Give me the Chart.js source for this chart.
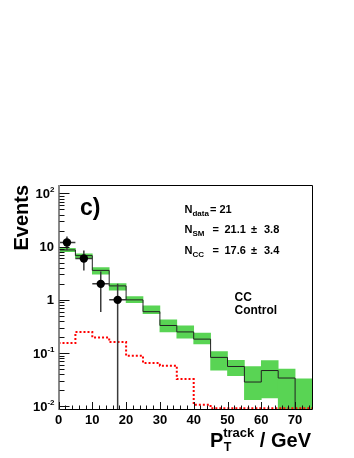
<!DOCTYPE html>
<html>
<head>
<meta charset="utf-8">
<script src="https://cdn.jsdelivr.net/npm/chart.js@4/dist/chart.umd.min.js"></script>
<style>
html,body{margin:0;padding:0;background:#fff;}
#wrap{width:354px;height:458px;}
</style>
</head>
<body>
<div id="wrap"><canvas id="mychart"></canvas></div>
<script>
'use strict';
// bin edges of the histograms (GeV)
const binEdges=[0,5,10,15,20,25,30,35,40,45,50,55,60,65,70,75];
// SM expectation per bin with its uncertainty band
const smValues=[8.67,6.78,3.58,1.83,1.0,0.60,0.33,0.25,0.183,0.083,0.056,0.0286,0.047,0.034,0.004];
const smLow=[8.05,6.05,3.03,1.52,0.89,0.55,0.25,0.19,0.148,0.048,0.0375,0.0133,0.0143,0.004,0.004];
const smHigh=[9.3,7.3,4.03,2.02,1.15,0.77,0.42,0.325,0.237,0.107,0.073,0.056,0.072,0.05,0.033];
// red dotted component
const ccValues=[0.154,0.248,0.196,0.161,0.089,0.065,0.058,0.0325,0.0107,0.0092,0.0092,0.0092,0.0092,0.0092,0.0092];
// data points
const dataX=[2.5,7.5,12.5,17.5];
const dataY=[12,6,2,1];
const dataErr=[3.46,2.45,1.41,1];
// y tick decades
const yTicks=[0.01,0.1,1,10,100];

const FONT="'Liberation Sans', Arial, Helvetica, sans-serif";

function stepPoints(vals){
  return binEdges.map((e,i)=>({x:e,y:vals[Math.min(i,vals.length-1)]}));
}
const bandData=smLow.map((lo,i)=>({x:binEdges[i]+2.5,y:[lo,smHigh[i]]}));

function supText(ctx,base,exp,xRight,y){
  ctx.font='bold 13px '+FONT;
  const wb=ctx.measureText(base).width;
  ctx.font='bold 8px '+FONT;
  const we=exp?ctx.measureText(exp).width:0;
  const x0=xRight-wb-we;
  ctx.font='bold 13px '+FONT;
  ctx.textBaseline='middle';
  ctx.textAlign='left';
  ctx.fillText(base,x0,y+1);
  if(exp){
    ctx.font='bold 8px '+FONT;
    ctx.textBaseline='alphabetic';
    ctx.fillText(exp,x0+wb,y-1);
  }
}

function nLabel(ctx,sub,x,base){
  ctx.textAlign='left';
  ctx.textBaseline='alphabetic';
  ctx.font='bold 11px '+FONT;
  ctx.fillText('N',x,base);
  const w=ctx.measureText('N').width;
  ctx.font='bold 8px '+FONT;
  ctx.fillText(sub,x+w,base+2.8);
}

const rootStyle={
  id:'rootStyle',
  beforeDatasetDraw(chart,args){
    if(args.index!==3)return;
    const ctx=chart.ctx, xs=chart.scales.x, ys=chart.scales.y, a=chart.chartArea;
    ctx.save();
    ctx.beginPath();
    ctx.rect(a.left,a.top,a.right-a.left,a.bottom-a.top);
    ctx.clip();
    ctx.strokeStyle='#3a3a3a';
    ctx.lineWidth=1.5;
    dataX.forEach((x,i)=>{
      const px=xs.getPixelForValue(x), py=ys.getPixelForValue(dataY[i]);
      const lo=dataY[i]-dataErr[i];
      const pLo=lo>0?ys.getPixelForValue(lo):a.bottom+5;
      const pHi=ys.getPixelForValue(dataY[i]+dataErr[i]);
      ctx.beginPath();
      ctx.moveTo(px,pHi);ctx.lineTo(px,pLo);
      ctx.moveTo(xs.getPixelForValue(x-2.5),py);ctx.lineTo(xs.getPixelForValue(x+2.5),py);
      ctx.stroke();
    });
    ctx.restore();
  },
  afterDraw(chart){
    const ctx=chart.ctx, xs=chart.scales.x, ys=chart.scales.y, a=chart.chartArea;
    ctx.save();
    // frame
    ctx.strokeStyle='#000';
    ctx.lineWidth=1;
    ctx.beginPath();
    ctx.moveTo(a.left,a.top+0.5);ctx.lineTo(a.right+0.5,a.top+0.5);
    ctx.lineTo(a.right+0.5,a.bottom+0.5);ctx.lineTo(a.left,a.bottom+0.5);
    ctx.stroke();
    ctx.strokeStyle='#888';
    ctx.lineWidth=2;
    ctx.beginPath();
    ctx.moveTo(a.left+0.5,a.top);ctx.lineTo(a.left+0.5,a.bottom+1);
    ctx.stroke();
    // y ticks
    ctx.strokeStyle='#111';
    ctx.lineWidth=1;
    ctx.beginPath();
    for(let d=-3;d<=2;d++){
      for(let m=1;m<=9;m++){
        const v=m*Math.pow(10,d);
        if(v<ys.min||v>ys.max)continue;
        const py=Math.round(ys.getPixelForValue(v))+0.5;
        const len=m===1?10:5;
        ctx.moveTo(a.left+1,py);ctx.lineTo(a.left+1+len,py);
      }
    }
    // x ticks
    for(let v=0;v<=xs.max;v+=2){
      const px=Math.round(xs.getPixelForValue(v))+0.5;
      const len=v%10===0?7:3.5;
      ctx.moveTo(px,a.bottom);ctx.lineTo(px,a.bottom-len);
    }
    ctx.stroke();
    // y labels
    ctx.fillStyle='#000';
    yTicks.forEach(v=>{
      const e=Math.round(Math.log10(v));
      const py=ys.getPixelForValue(v);
      if(e===0)supText(ctx,'1','',54,py);
      else if(e===1)supText(ctx,'10','',54,py);
      else supText(ctx,'10',String(e),54.5,py);
    });
    // y title
    ctx.save();
    ctx.translate(22.5,a.top);
    ctx.rotate(-Math.PI/2);
    ctx.font='bold 20px '+FONT;
    ctx.textAlign='right';
    ctx.textBaseline='middle';
    ctx.fillText('Events',0,0);
    ctx.restore();
    // x title
    ctx.textAlign='left';
    ctx.textBaseline='alphabetic';
    ctx.font='bold 20px '+FONT;
    const wP=ctx.measureText('P').width, wR=ctx.measureText(' / GeV').width;
    ctx.font='bold 13px '+FONT;
    const wS=ctx.measureText('track').width;
    let x0=a.right-1-(wP+wS+wR);
    ctx.font='bold 20px '+FONT;
    ctx.fillText('P',x0,447.3);
    ctx.font='bold 13px '+FONT;
    ctx.fillText('track',x0+wP,436.5);
    ctx.font='bold 12.5px '+FONT;
    ctx.fillText('T',x0+wP+0.5,450.7);
    ctx.font='bold 20px '+FONT;
    ctx.fillText(' / GeV',x0+wP+wS,447.3);
    // panel label
    ctx.font='bold 23px '+FONT;
    ctx.fillText('c)',80,215);
    // numbers
    nLabel(ctx,'data',184.5,212.7);
    ctx.font='bold 11px '+FONT;
    ctx.fillText('= 21',210,212.7);
    nLabel(ctx,'SM',184.5,232.7);
    ctx.font='bold 11px '+FONT;
    ctx.fillText('=',212.5,232.7);
    ctx.fillText('21.1',224.5,232.7);
    ctx.fillText('\u00b1',251,232.7);
    ctx.fillText('3.8',264,232.7);
    nLabel(ctx,'CC',184.5,254);
    ctx.font='bold 11px '+FONT;
    ctx.fillText('=',212.5,254);
    ctx.fillText('17.6',224.5,254);
    ctx.fillText('\u00b1',251,254);
    ctx.fillText('3.4',264,254);
    ctx.font='bold 12px '+FONT;
    ctx.fillText('CC',234.5,300.7);
    ctx.fillText('Control',234.5,314.3);
    ctx.restore();
  }
};

let mychart=document.getElementById('mychart').getContext('2d');
let histchart=new Chart(mychart,{
  type:'line',
  data:{
    datasets:[
      {
        type:'bar',
        label:'SM uncertainty',
        data:bandData,
        backgroundColor:'#59d454',
        borderWidth:0,
        barPercentage:1,
        categoryPercentage:1,
        order:4
      },
      {
        label:'SM',
        data:stepPoints(smValues),
        stepped:'before',
        borderColor:'#222',
        borderWidth:1,
        pointRadius:0,
        fill:false,
        order:3
      },
      {
        label:'CC',
        data:stepPoints(ccValues),
        stepped:'before',
        borderColor:'#ff0000',
        borderWidth:2,
        borderDash:[2,2],
        pointRadius:0,
        fill:false,
        order:2
      },
      {
        type:'scatter',
        label:'Data',
        data:dataX.map((x,i)=>({x:x,y:dataY[i]})),
        backgroundColor:'#000',
        borderWidth:0,
        pointRadius:4.2,
        order:1
      }
    ]
  },
  options:{
    responsive:true,
    maintainAspectRatio:false,
    animation:false,
    events:[],
    layout:{padding:{top:185,right:42,left:0,bottom:0}},
    plugins:{legend:{display:false},tooltip:{enabled:false}},
    scales:{
      x:{
        type:'linear',
        min:0,
        max:75,
        offset:false,
        grid:{display:false,drawTicks:false},
        border:{display:false},
        ticks:{
          stepSize:10,
          includeBounds:false,
          autoSkip:false,
          maxRotation:0,
          padding:4,
          color:'#000',
          font:{family:FONT,size:13,weight:'bold'}
        },
        afterFit(scale){scale.height=49;}
      },
      y:{
        type:'logarithmic',
        min:0.0089,
        max:144,
        grid:{display:false,drawTicks:false},
        border:{display:false},
        ticks:{display:false},
        afterFit(scale){scale.width=58.5;}
      }
    }
  },
  plugins:[rootStyle]
});
</script>
</body>
</html>
